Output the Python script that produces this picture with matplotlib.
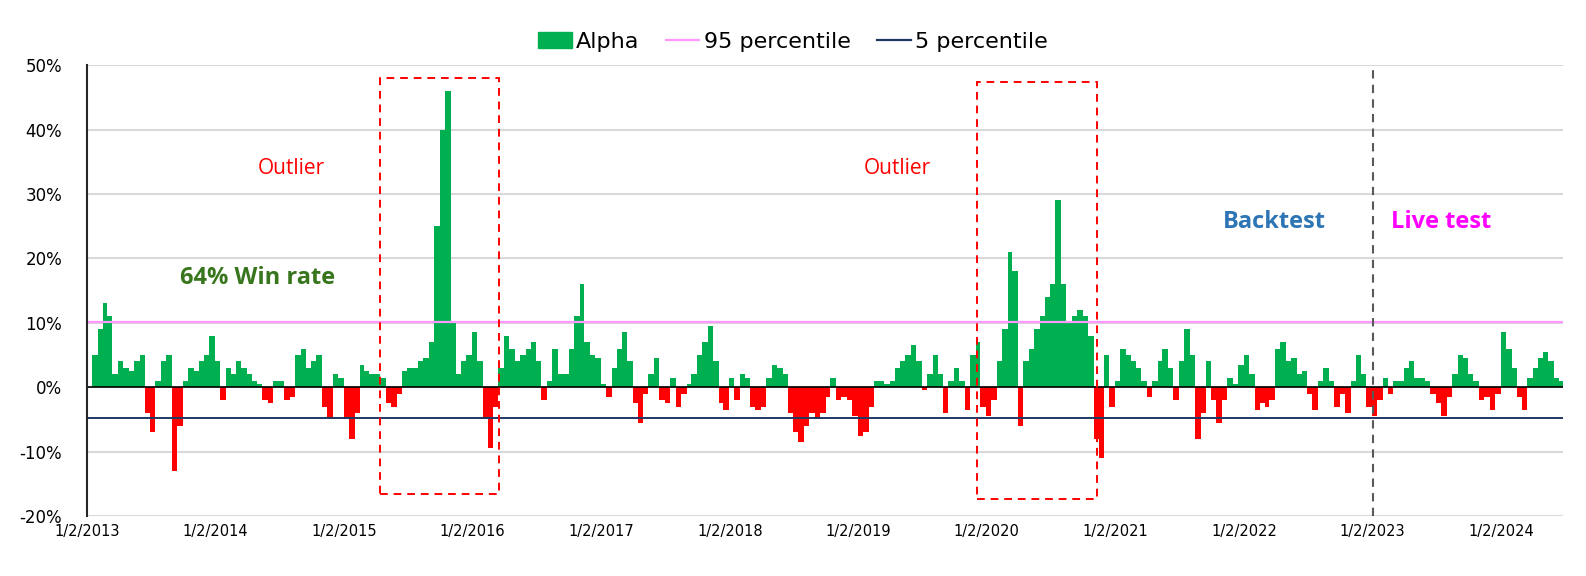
import matplotlib
matplotlib.use("Agg")
from matplotlib import pyplot as plt
from matplotlib import font_manager
from matplotlib.patches import Rectangle, Patch
from matplotlib.lines import Line2D
import matplotlib.dates as mdates
import numpy as np
import pandas as pd

# semi-monthly alpha readings (%), Jan 2013 .. Jun 2024
alpha_2013 = [5, 9, 13, 11, 2, 4, 3, 2.5, 4, 5, -4, -7, 1, 4, 5, -13, -6, 1, 3, 2.5, 4, 5, 8, 4]
alpha_2014 = [-2, 3, 2, 4, 3, 2, 1, 0.5, -2, -2.5, 1, 1, -2, -1.5, 5, 6, 3, 4, 5, -3, -5, 2, 1.5, -5]
alpha_2015 = [-8, -4, 3.5, 2.5, 2, 2, 1.5, -2.5, -3, -1, 2.5, 3, 3, 4, 4.5, 7, 25, 40, 46, 10, 2, 4, 5, 8.5]
alpha_2016 = [4, -5, -9.5, -3, 3, 8, 6, 4, 5, 6, 7, 4, -2, 1, 6, 2, 2, 6, 11, 16, 7, 5, 4.5, 0.5]
alpha_2017 = [-1.5, 3, 6, 8.5, 4, -2.5, -5.5, -1, 2, 4.5, -2, -2.5, 1.5, -3, -1, 0.5, 2, 5, 7, 9.5, 4, -2.5, -3.5, 1.5]
alpha_2018 = [-2, 2, 1.5, -3, -3.5, -3, 1.5, 3.5, 3, 2, -4, -7, -8.5, -6, -4, -5, -4, -1.5, 1.5, -2, -1.5, -2, -4.5, -7.5]
alpha_2019 = [-7, -3, 1, 1, 0.5, 1, 3, 4, 5, 6.5, 4, -0.5, 2, 5, 2, -4, 1, 3, 1, -3.5, 5, 7, -3, -4.5]
alpha_2020 = [-2, 4, 9, 21, 18, -6, 4, 6, 9, 11, 14, 16, 29, 16, 10, 11, 12, 11, 8, -8, -11, 5, -3, 1]
alpha_2021 = [6, 5, 4, 3, 1, -1.5, 1, 4, 6, 3, -2, 4, 9, 5, -8, -4, 4, -2, -5.5, -2, 1.5, 0.5, 3.5, 5]
alpha_2022 = [2, -3.5, -2.5, -3, -2, 6, 7, 4, 4.5, 2, 2.5, -1, -3.5, 1, 3, 1, -3, -1, -4, 1, 5, 2, -3, -4.5]
alpha_2023 = [-2, 1.5, -1, 1, 1, 3, 4, 1.5, 1.5, 1, -1, -2.5, -4.5, -1.5, 2, 5, 4.5, 2, 1, -2, -1.5, -3.5, -1, 8.5]
alpha_2024 = [6, 3, -1.5, -3.5, 1.5, 3, 4.5, 5.5, 4, 1.5, 1, -1]

alpha = (alpha_2013 + alpha_2014 + alpha_2015 + alpha_2016 + alpha_2017 + alpha_2018
         + alpha_2019 + alpha_2020 + alpha_2021 + alpha_2022 + alpha_2023 + alpha_2024)
dates = pd.date_range("2013-01-02", periods=len(alpha), freq="SMS")
p95 = 10.2
p5 = -4.8
year_ticks = pd.to_datetime([f"{y}-01-02" for y in range(2013, 2025)])
live_start = pd.Timestamp("2023-01-02")

names = {f.name for f in font_manager.fontManager.ttflist}
narrow = "Liberation Sans Narrow" if "Liberation Sans Narrow" in names else "DejaVu Sans"
plex = "Open Sans" if "Open Sans" in names else "DejaVu Sans"

fig = plt.figure(figsize=(15.86, 5.76), dpi=100)
ax = fig.add_axes([0.0549, 0.104, 0.9306, 0.783])

vals = np.array(alpha)
colors = np.where(vals >= 0, "#00b050", "#ff0000")
xnum = mdates.date2num(dates)
widths = np.append(np.diff(xnum), 15.0)
ax.bar(xnum, vals, width=widths, align="edge", color=colors, linewidth=0, zorder=2)
ax.xaxis_date()

ax.axhline(p95, color="#ff99ff", lw=1.6, zorder=3)
ax.axhline(p5, color="#1f3864", lw=1.4, zorder=3)
ax.axhline(0, color="black", lw=1.2, zorder=3)
ax.axvline(live_start, color="#595959", lw=1.5, ls=(0, (4, 3)), zorder=4)

# outlier boxes
for x0, x1, y0, y1 in [("2015-04-15", "2016-03-18", -16.6, 48.0),
                       ("2019-12-06", "2020-11-11", -17.4, 47.4)]:
    a = mdates.date2num(pd.Timestamp(x0))
    b = mdates.date2num(pd.Timestamp(x1))
    ax.add_patch(Rectangle((a, y0), b - a, y1 - y0, fill=False, edgecolor="#ff0000",
                           lw=1.4, ls=(0, (4, 3)), zorder=5))

ax.text(pd.Timestamp("2014-08-05"), 34, "Outlier", color="#ff0000", fontsize=15,
        family=plex, ha="center", va="center")
ax.text(pd.Timestamp("2019-04-22"), 34, "Outlier", color="#ff0000", fontsize=15,
        family=plex, ha="center", va="center")
ax.text(pd.Timestamp("2014-05-01"), 17, "64% Win rate", color="#38761d", fontsize=17,
        family=plex, weight="bold", ha="center", va="center")
ax.text(pd.Timestamp("2022-03-28"), 25.6, "Backtest", color="#2e75b6", fontsize=17,
        family=plex, weight="bold", ha="center", va="center")
ax.text(pd.Timestamp("2023-07-15"), 25.6, "Live test", color="#ff00ff", fontsize=17,
        family=plex, weight="bold", ha="center", va="center")

ax.set_ylim(-20, 50)
ax.set_xlim(pd.Timestamp("2013-01-02"), pd.Timestamp("2024-06-26"))
ax.set_yticks(range(-20, 51, 10))
ax.set_yticklabels([f"{v}%" for v in range(-20, 51, 10)], fontsize=12, family=narrow)
ax.set_xticks(year_ticks)
ax.set_xticklabels([f"1/2/{d.year}" for d in year_ticks], fontsize=10.5, family=narrow)
ax.tick_params(axis="both", length=0, pad=6)
ax.tick_params(axis="y", pad=18)
ax.grid(axis="y", color="#d9d9d9", lw=1.5, zorder=0)
for s in ["top", "right", "bottom"]:
    ax.spines[s].set_visible(False)
ax.spines["left"].set_color("#262626")
ax.spines["left"].set_linewidth(1.5)
ax.spines["left"].set_zorder(6)

handles = [Patch(color="#00b050"), Line2D([], [], color="#ff99ff", lw=1.6),
           Line2D([], [], color="#1f3864", lw=1.6)]
fig.legend(handles, ["Alpha", "95 percentile", "5 percentile"], loc="center",
           bbox_to_anchor=(0.5, 0.927), ncol=3, frameon=False,
           prop={"family": narrow, "size": 16}, handlelength=1.5, handletextpad=0.2,
           columnspacing=1.2)

fig.savefig("out.png", dpi=100)
